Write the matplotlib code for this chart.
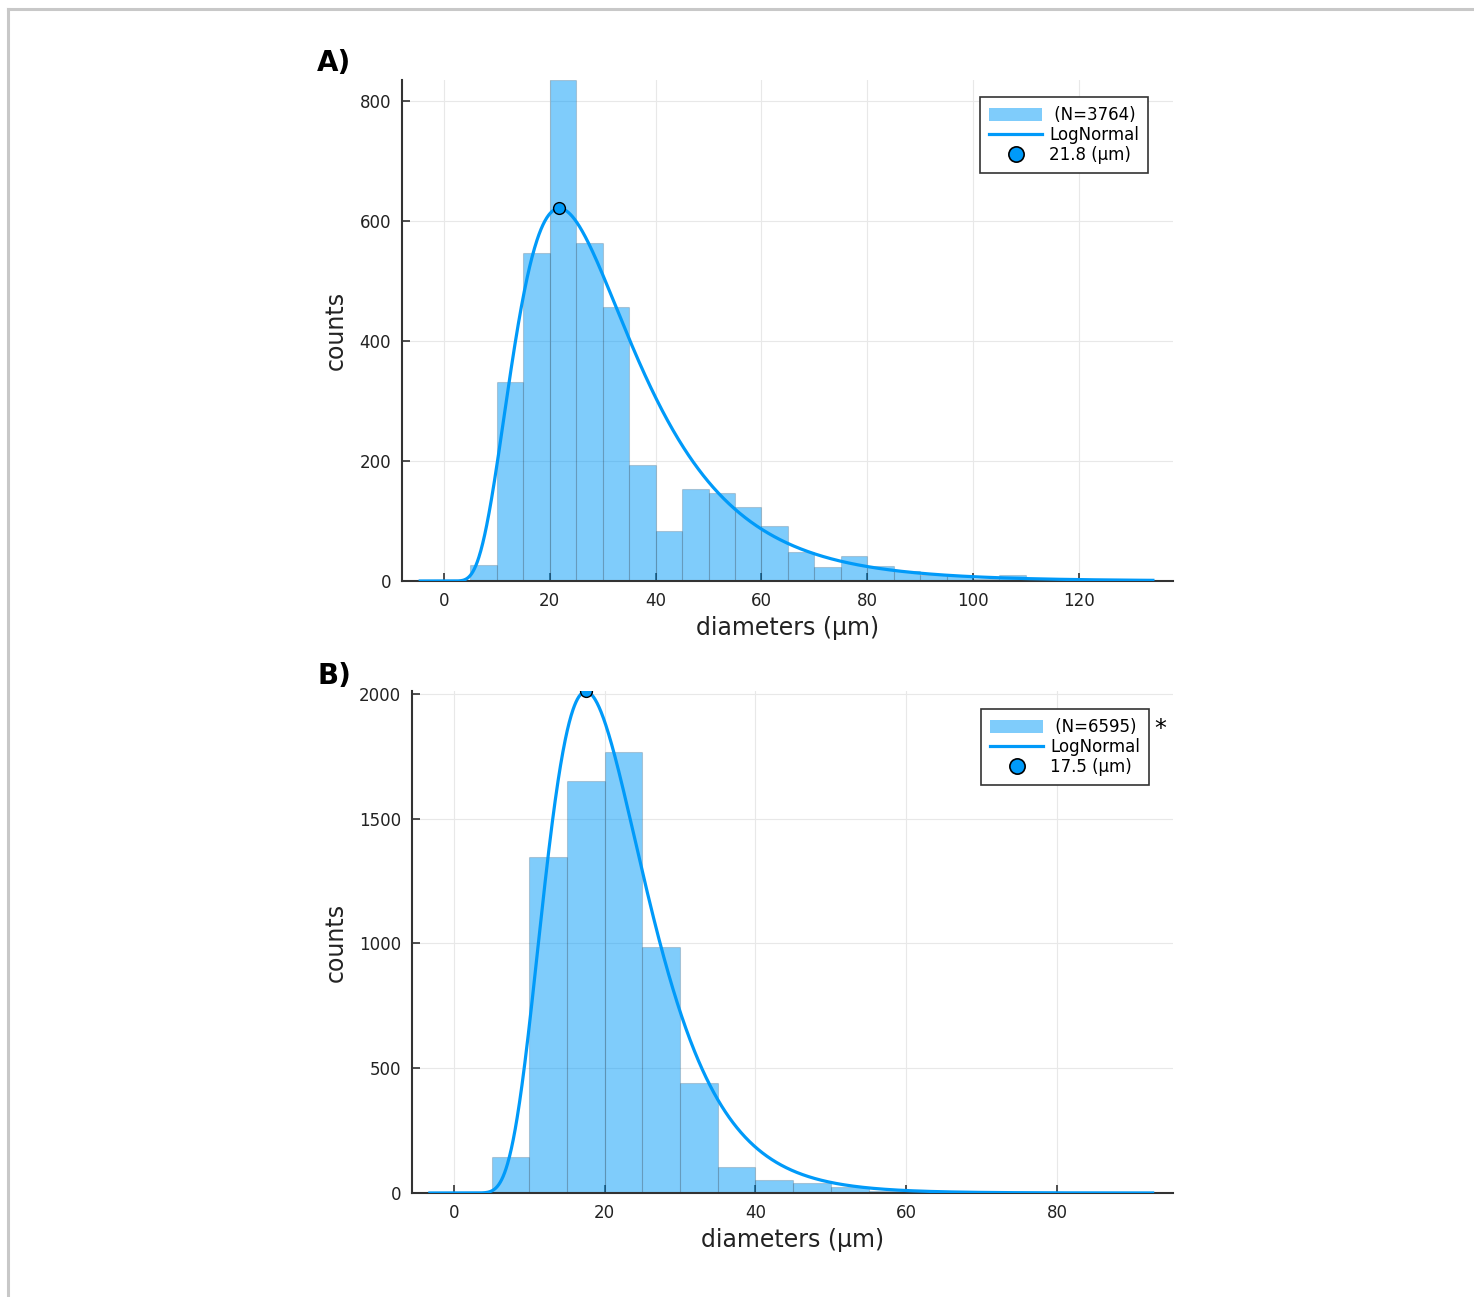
import numpy as np
import matplotlib
matplotlib.use("Agg")
import matplotlib.pyplot as plt
from matplotlib.lines import Line2D
from matplotlib.patches import Patch

# ---------------- data ----------------
bin_width = 5
a_bin_starts = [5, 10, 15, 20, 25, 30, 35, 40, 45, 50, 55, 60, 65, 70, 75, 80,
                85, 90, 95, 100, 105, 110, 115, 120, 125, 130]
a_counts = [27, 332, 547, 835, 563, 456, 193, 83, 153, 146, 123, 91, 49, 24, 42, 25,
            17, 10, 9, 3, 10, 2, 1, 1, 1, 1]
a_label = " (N=3764)"
a_mode, a_peak, a_sigma = 21.8, 621, 0.51
a_curve_range = (-4.5, 134)
a_mode_label = "21.8 (µm)"

b_bin_starts = [5, 10, 15, 20, 25, 30, 35, 40, 45, 50, 55, 60, 65, 70, 75, 80, 85]
b_counts = [146, 1348, 1652, 1768, 987, 440, 106, 52, 41, 25, 8, 4, 3, 2, 1, 1, 1]
b_label = " (N=6595)"
b_mode, b_peak, b_sigma = 17.5, 2010, 0.378
b_curve_range = (-3.2, 92.7)
b_mode_label = "17.5 (µm)"

a_xticks = [0, 20, 40, 60, 80, 100, 120]
a_yticks = [0, 200, 400, 600, 800]
b_xticks = [0, 20, 40, 60, 80]
b_yticks = [0, 500, 1000, 1500, 2000]

# ---------------- style ----------------
W, H = 1474, 1297
fig = plt.figure(figsize=(W / 100, H / 100), dpi=100)
blue = (0.0, 0.605, 0.978)
bar_face = (0.0, 0.605, 0.978, 0.5)

def lognormal_curve(x, mode, peak, sigma):
    y = np.zeros_like(x)
    pos = x > 0
    y[pos] = peak * np.exp(-(np.log(x[pos] / mode)) ** 2 / (2 * sigma ** 2))
    return y

def panel(rect, starts, counts, label, mode, peak, sigma, crange, mlabel,
          xlim, ylim, xticks, yticks, legend_anchor, letter, letter_xy):
    ax = fig.add_axes(rect)
    ax.bar(starts, counts, width=bin_width, align="edge", color=bar_face,
           edgecolor=(0, 0, 0, 0.15), linewidth=0.8, zorder=2)
    xs = np.linspace(crange[0], crange[1], 1500)
    ax.plot(xs, lognormal_curve(xs, mode, peak, sigma), color=blue, lw=2.3, zorder=3)
    ax.plot([mode], [peak], "o", ms=8.5, mfc=blue, mec="black", mew=1.0,
            zorder=4, clip_on=True)
    ax.set_xlim(*xlim)
    ax.set_ylim(*ylim)
    ax.set_xticks(xticks)
    ax.set_yticks(yticks)
    for s in ("top", "right"):
        ax.spines[s].set_visible(False)
    for s in ("left", "bottom"):
        ax.spines[s].set_color("#333333")
        ax.spines[s].set_linewidth(1.5)
    ax.tick_params(direction="in", length=6, width=1.2, color="#333333",
                   labelsize=12, labelcolor="#222222", pad=8)
    ax.set_axisbelow(True)
    ax.grid(True, color="#e8e8e8", alpha=1.0, lw=0.8, zorder=0)
    ax.set_xlabel("diameters (µm)", fontsize=17, color="#222222", labelpad=4)
    ax.set_ylabel("counts", fontsize=17, color="#222222", labelpad=8)
    handles = [Patch(facecolor=bar_face, edgecolor="none"),
               Line2D([], [], color=blue, lw=2.3),
               Line2D([], [], ls="none", marker="o", ms=11, mfc=blue, mec="black", mew=1.2)]
    leg = ax.legend(handles, [label, "LogNormal", mlabel], loc="upper right",
                    bbox_to_anchor=legend_anchor, fontsize=12, frameon=True,
                    fancybox=False, edgecolor="#333333", framealpha=1,
                    handlelength=3.2, handleheight=0.9, handletextpad=0.4,
                    labelspacing=0.12, borderpad=0.55, borderaxespad=0)
    leg.get_frame().set_linewidth(1.2)
    fig.text(letter_xy[0], letter_xy[1], letter, fontsize=20, fontweight="bold",
             ha="left", va="center")
    return ax

axA = panel([402 / W, 1 - 581 / H, (1173 - 402) / W, (581 - 80) / H],
            a_bin_starts, a_counts, a_label, a_mode, a_peak, a_sigma, a_curve_range,
            a_mode_label, (-7.94, 137.8), (0, 835), a_xticks, a_yticks,
            (0.9676, 0.966), "A)", (317 / W, 1 - 63 / H))

axB = panel([412 / W, 1 - 1193 / H, (1173 - 412) / W, (1193 - 691) / H],
            b_bin_starts, b_counts, b_label, b_mode, b_peak, b_sigma, b_curve_range,
            b_mode_label, (-5.57, 95.4), (0, 2012), b_xticks, b_yticks,
            (0.9685, 0.964), "B)", (317 / W, 1 - 676 / H))

fig.text(1160 / W, 1 - 729 / H, "*", fontsize=17, ha="center", va="center")

# figure frame (grey border at top and left)
fig.add_artist(Line2D([7.5 / W, 7.5 / W], [0, 1 - 9 / H], color="#c8c8c8", lw=2.2,
                      transform=fig.transFigure))
fig.add_artist(Line2D([7.5 / W, 1], [1 - 9 / H, 1 - 9 / H], color="#c8c8c8", lw=2.2,
                      transform=fig.transFigure))

fig.savefig("out.png", dpi=100)
